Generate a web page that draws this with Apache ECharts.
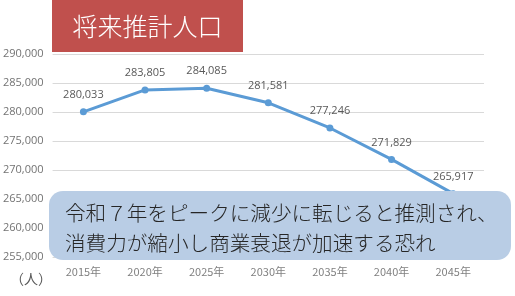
<!DOCTYPE html>
<html><head><meta charset="utf-8">
<script src="https://cdn.jsdelivr.net/npm/echarts@6/dist/echarts.min.js"></script>
<style>html,body{margin:0;padding:0;background:#fff}#c{width:515px;height:296px}</style>
</head><body><div id="c"></div>
<script>
const categories = ['2015年','2020年','2025年','2030年','2035年','2040年','2045年'];
const population = [280033, 283805, 284085, 281581, 277246, 271829, 265917];
const yMin = 255000, yMax = 290000, yStep = 5000;
const titleText = '将来推計人口';
const noteLines = ['令和７年をピークに減少に転じると推測され、', '消費力が縮小し商業衰退が加速する恐れ'];
const unitText = '（人）';

const chart = echarts.init(document.getElementById('c'), null, {renderer: 'canvas'});
chart.setOption({
  animation: false,
  backgroundColor: '#fff',
  grid: {left: 52, right: 31, top: 54, bottom: 39, containLabel: false},
  xAxis: {
    type: 'category', data: categories, boundaryGap: true,
    axisLine: {show: false}, axisTick: {show: false},
    axisLabel: {color: '#808080', fontSize: 11, fontFamily: 'Noto Sans CJK JP', margin: 9}
  },
  yAxis: {
    type: 'value', min: yMin, max: yMax, interval: yStep,
    axisLine: {show: false}, axisTick: {show: false},
    splitLine: {lineStyle: {color: '#d9d9d9', width: 1}},
    axisLabel: {color: '#737373', fontSize: 11, fontFamily: 'Open Sans', margin: 9,
      formatter: v => v.toLocaleString('en-US')}
  },
  series: [{
    type: 'line', data: population,
    lineStyle: {color: '#5b9bd5', width: 3},
    itemStyle: {color: '#5b9bd5'},
    symbol: 'circle', symbolSize: 7,
    label: {show: true, position: 'top', distance: 8, color: '#595959', fontSize: 11, fontFamily: 'Open Sans',
      formatter: p => p.value.toLocaleString('en-US')}
  }],
  graphic: [
    {type: 'rect', shape: {x: 52, y: 0, width: 191, height: 52}, style: {fill: '#c0504d'}, z: 100},
    {type: 'text', x: 147.5, y: 26, style: {text: titleText, fill: '#fff', fontSize: 25, fontWeight: 300, fontFamily: 'Noto Sans CJK JP', align: 'center', verticalAlign: 'middle'}, z: 101},
    {type: 'rect', shape: {x: 49, y: 191, width: 462, height: 69, r: 14}, style: {fill: '#b9cde5'}, z: 100},
    {type: 'text', x: 65, y: 213, style: {text: noteLines[0], fill: '#262626', fontSize: 20.6, fontWeight: 300, fontFamily: 'Noto Sans CJK JP', verticalAlign: 'middle'}, z: 101},
    {type: 'text', x: 65, y: 243, style: {text: noteLines[1], fill: '#262626', fontSize: 20.6, fontWeight: 300, fontFamily: 'Noto Sans CJK JP', verticalAlign: 'middle'}, z: 101},
    {type: 'text', x: 31, y: 279, style: {text: unitText, fill: '#595959', fontSize: 14, fontFamily: 'Noto Sans CJK JP', align: 'center', verticalAlign: 'middle'}, z: 101}
  ]
});
</script></body></html>
